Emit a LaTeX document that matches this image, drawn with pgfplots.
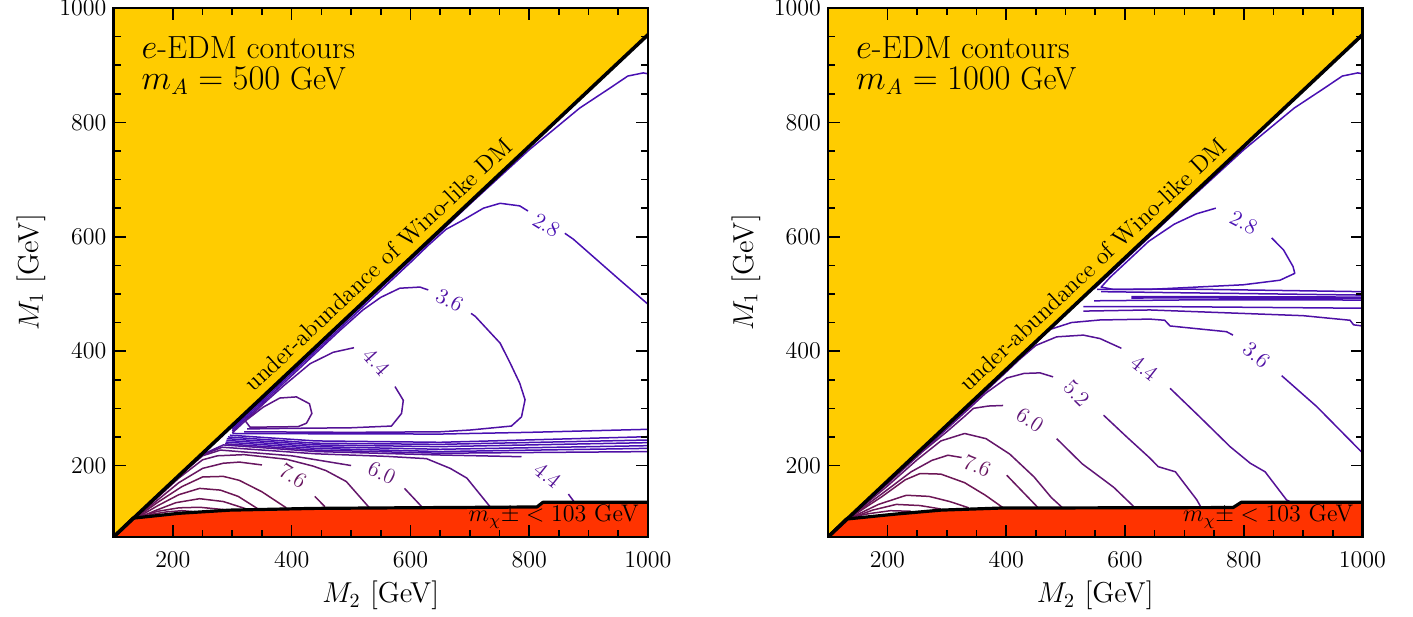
\documentclass[border=0pt]{standalone}
\usepackage{pgfplots}
\pgfplotsset{compat=1.18}
\definecolor{yel}{RGB}{255,204,0}
\definecolor{redf}{RGB}{255,51,0}
\definecolor{cA}{RGB}{72,16,178}
\definecolor{cB}{RGB}{78,16,165}
\definecolor{cC}{RGB}{84,18,150}
\definecolor{cD}{RGB}{90,20,135}
\definecolor{cE}{RGB}{96,22,118}
\definecolor{cF}{RGB}{100,22,105}
\definecolor{cG}{RGB}{104,22,95}
\definecolor{cH}{RGB}{108,22,85}
\tikzset{
  ct/.style={line width=0.75pt, line join=round},
  clab/.style={font=\fontsize{11}{13}\selectfont, inner sep=0pt},
}
\pgfplotsset{
  myax/.style={
    width=267.25pt, height=264.5pt, scale only axis,
    xmin=100, xmax=1000, ymin=75, ymax=1000,
    axis on top, axis line style={line width=1.4pt},
    xtick={200,400,...,1000}, ytick={200,400,...,1000},
    minor x tick num=3, minor y tick num=3,
    tick align=inside,
    major tick length=6pt, minor tick length=3.5pt,
    every tick/.append style={black, line width=0.8pt},
    tick label style={font=\large},
    xticklabel style={yshift=-4pt},
    label style={font=\Large},
    xlabel={$M_2$ [GeV]}, ylabel={$M_1$ [GeV]},
    /pgf/number format/1000 sep={},
  },
}
\begin{document}
\begin{tikzpicture}
\useasboundingbox (-56.75pt,-39.5pt) rectangle (649.75pt,268.5pt);
% ================= LEFT PANEL =================
\begin{axis}[myax, at={(0pt,0pt)}, anchor=south west]
% upper contours
\addplot[ct,cA] coordinates {(300,266)(400,364.5)(500,462)(600,559.5)(700,657)(800,752)(885,825)(936,860)(966,881)(992,886.5)(1000,885)};
\addplot[ct,cA] coordinates {(1000,482)(953,524)(874,596)(860,606)};
\addplot[ct,cA] coordinates {(798,645)(784,654)(751,658.5)(723,650)(690,630)(660,613)(630,585)(600,555)(500,458)(400,361)(300,263)};
\addplot[ct,cB] coordinates {(300,260)(400,357)(480,435)(520,472)(550,494)(582,510)(616,512)(630,507)};
\addplot[ct,cB] coordinates {(702,466)(709,461)(751,414)(768,379)(784,344)(793,315)(787,285)(770,269)(700,262)(650,259)(500,258)(320,259)};
\addplot[ct,cC] coordinates {(300,257)(360,315)(386,339)(431,378)(470,398)(505,406)};
\addplot[ct,cC] coordinates {(574,338)(588,314)(585,291)(568,269)(500,266)(400,265)(325,264)};
\addplot[ct,cD] coordinates {(322,278)(352,302)(380,318)(408,320)(430,308)(434,291)(425,274)(411,268)(330,267)(322,278)};
% band
\addplot[ct,cA] coordinates {(300,256)(440,255.5)(650,255)(800,258)(1000,263.3)};
\addplot[ct,cA] coordinates {(296,253)(440,243)(650,240.6)(1000,250.4)};
\addplot[ct,cA] coordinates {(293,250)(440,239)(650,237)(1000,244.6)};
\addplot[ct,cA] coordinates {(291,247)(440,236)(650,233)(1000,240)};
\addplot[ct,cA] coordinates {(290,244)(440,233)(650,228.4)(1000,234.7)};
\addplot[ct,cA] coordinates {(289,241)(440,230)(650,224.4)(1000,230)};
\addplot[ct,cB] coordinates {(288,238)(440,227)(650,221.5)(1000,224.3)};
% lower contours
\addplot[ct,cC] coordinates {(135,109)(170,143)(210,182)(250,219.5)(285,236)(440,224.5)(650,218.4)(787,215.4)};
\addplot[ct,cC] coordinates {(866,150)(876,136)};
\addplot[ct,cD] coordinates {(135,108.5)(170,142.5)(210,181.5)(250,218.5)(283,232)(440,220.5)(560,216)(627,212)(667,195)(695,178)(734,128)};
\addplot[ct,cE] coordinates {(135,108)(170,142)(210,181)(250,217)(280,227)(400,217)(500,200)};
\addplot[ct,cE] coordinates {(590,160)(619,128)};
\addplot[ct,cF] coordinates {(135,107.5)(170,140)(210,178)(250,210)(275,217)(320,219)(391,211)(436,199)(458,191)(492,172)(531,126)};
\addplot[ct,cG] coordinates {(135,107)(170,136)(210,170)(250,195)(285,204)(312,206)(350,201)};
\addplot[ct,cG] coordinates {(439,146)(456,128)};
\addplot[ct,cH] coordinates {(135,106.5)(175,136)(215,163)(250,180)(285,181)(312,174)(350,154)(391,126)};
\addplot[ct,cH] coordinates {(135,106)(175,130)(210,149)(245,160)(280,157)(310,146)(342,125)};
\addplot[ct,cH] coordinates {(135,105.5)(170,121)(205,135)(245,142)(285,137)(324,124)};
\addplot[ct,cH] coordinates {(140,110)(175,120)(210,126)(245,127)(275,124)(296,122)};
\addplot[ct,cH] coordinates {(160,114)(190,119)(215,121)(240,119)};
% regions
\addplot[fill=yel, draw=none] coordinates {(100,75)(1000,953.3)(1000,1000)(100,1000)};
\addplot[fill=redf, draw=none] coordinates {(100,75)(133,108)(211,116.5)(296,122)(436,125)(604,126.2)(813,127.5)(823,135.6)(1000,135.6)(1000,75)};
\addplot[black, line width=1.8pt] coordinates {(100,75)(1000,953.3)};
\addplot[black, line width=1.6pt, line join=round] coordinates {(100,75)(133,108)(211,116.5)(296,122)(436,125)(604,126.2)(813,127.5)(823,135.6)(1000,135.6)};
% labels
\node[clab, text=cA, rotate=-32] at (axis cs:829,620) {2.8};
\node[clab, text=cB, rotate=-28] at (axis cs:666,489) {3.6};
\node[clab, text=cC, rotate=-48] at (axis cs:543,381) {4.4};
\node[clab, text=cG, rotate=-32] at (axis cs:402,182) {7.6};
\node[clab, text=cE, rotate=-25] at (axis cs:552,187) {6.0};
\node[clab, text=cC, rotate=-39] at (axis cs:832,183) {4.4};
\node[anchor=base west, inner sep=0pt, font=\fontsize{16}{18}\selectfont] at (rel axis cs:0.052,0.905) {$e$-EDM contours};
\node[anchor=base west, inner sep=0pt, font=\fontsize{16}{18}\selectfont] at (rel axis cs:0.052,0.846) {$m_A = 500$ GeV};
\node[anchor=base, inner sep=0pt, font=\large, rotate=43.2] at (axis cs:555,540.4) {under-abundance of Wino-like DM};
\node[anchor=base east, inner sep=0pt, font=\large] at (axis cs:985,102) {$m_{\chi}{\pm} < 103$ GeV};
\end{axis}
% ================= RIGHT PANEL =================
\begin{axis}[myax, at={(357.25pt,0pt)}, anchor=south west]
\addplot[ct,cA] coordinates {(548,509)(600,559.5)(700,657)(800,752)(885,825)(936,860)(966,881)(992,886.5)(1000,885)};
\addplot[ct,cA] coordinates {(847,598)(867,577)(883,548)(886,536)(861,524)(799,516)(642,508)(580,508)(560,512)(575,529)(607,560)(640,592)(683,622)(720,640)(753,650)};
% band
\addplot[ct,cA] coordinates {(553,508)(700,508.5)(1000,504)};
\addplot[ct,cA] coordinates {(560,504)(700,502)(1000,498)};
\addplot[ct,cA, line width=1.4pt] coordinates {(611,494)(700,494.2)(1000,493.4)};
\addplot[ct,cA] coordinates {(548,488)(700,489.5)(1000,489.4)};
\addplot[ct,cA] coordinates {(530,478)(650,478)(1000,475)};
\addplot[ct,cB] coordinates {(530,470)(642,472)(900,462)(979,454)(985,446)(1000,444)};
% contours
\addplot[ct,cB] coordinates {(135,111.5)(300,267.5)(400,365.5)(474,438)(510,450)(558,454.5)(642,456)(667,454)(676,444)(771,434)(782,428)};
\addplot[ct,cB] coordinates {(864,357)(923,303)(1000,222)};
\addplot[ct,cC] coordinates {(135,111)(300,266)(400,363.5)(423,386)(450,410)(485,425)(530,428)(558,422)(594,405)};
\addplot[ct,cC] coordinates {(676,335)(726,285)(777,233)(811,204)(836,189)(872,140)(879,136)};
\addplot[ct,cD] coordinates {(135,110)(200,170)(300,264)(340,302)(365,326)(401,353)(430,361)(457,362)(479,355)};
\addplot[ct,cD] coordinates {(564,288)(603,250)(642,213)(656,198)(685,189)(721,140)(728,127)};
\addplot[ct,cE] coordinates {(135,109.5)(200,168)(260,225)(300,259)(330,286)(345,300)(370,304)(395,305)};
\addplot[ct,cE] coordinates {(485,247)(528,203)(581,162)(616,127)};
\addplot[ct,cF] coordinates {(135,108.5)(200,164)(250,210)(290,243)(330,256)(366,247)(406,220)(447,180)(476,144)(494,127)};
\addplot[ct,cG] coordinates {(135,108)(190,150)(240,189)(275,209)(302,218)(325,214)};
\addplot[ct,cG] coordinates {(401,183)(453,127)};
\addplot[ct,cH] coordinates {(135,107.5)(190,145)(230,175)(255,186)(290,185)(330,170)(365,148)(395,126)};
\addplot[ct,cH] coordinates {(135,107)(185,132)(232,148)(270,146)(305,137)(337,126)};
\addplot[ct,cH] coordinates {(135,106.5)(175,122)(215,132)(255,130)(290,124)};
\addplot[ct,cH] coordinates {(140,110)(170,116)(205,121)(240,120)};
% regions
\addplot[fill=yel, draw=none] coordinates {(100,75)(1000,953.3)(1000,1000)(100,1000)};
\addplot[fill=redf, draw=none] coordinates {(100,75)(131,106.4)(215,115.2)(290,122)(390,125.6)(782,126.5)(796,135.7)(1000,135.7)(1000,75)};
\addplot[black, line width=1.8pt] coordinates {(100,75)(1000,953.3)};
\addplot[black, line width=1.6pt, line join=round] coordinates {(100,75)(131,106.4)(215,115.2)(290,122)(390,125.6)(782,126.5)(796,135.7)(1000,135.7)};
% labels
\node[clab, text=cA, rotate=-28] at (axis cs:800,625) {2.8};
\node[clab, text=cB, rotate=-40] at (axis cs:822,393) {3.6};
\node[clab, text=cC, rotate=-38] at (axis cs:634,370) {4.4};
\node[clab, text=cD, rotate=-45] at (axis cs:519,326) {5.2};
\node[clab, text=cE, rotate=-33] at (axis cs:440,279) {6.0};
\node[clab, text=cG, rotate=-22] at (axis cs:351,200) {7.6};
\node[anchor=base west, inner sep=0pt, font=\fontsize{16}{18}\selectfont] at (rel axis cs:0.052,0.905) {$e$-EDM contours};
\node[anchor=base west, inner sep=0pt, font=\fontsize{16}{18}\selectfont] at (rel axis cs:0.052,0.846) {$m_A = 1000$ GeV};
\node[anchor=base, inner sep=0pt, font=\large, rotate=43.2] at (axis cs:555,540.4) {under-abundance of Wino-like DM};
\node[anchor=base east, inner sep=0pt, font=\large] at (axis cs:985,102) {$m_{\chi}{\pm} < 103$ GeV};
\end{axis}
\end{tikzpicture}
\end{document}
